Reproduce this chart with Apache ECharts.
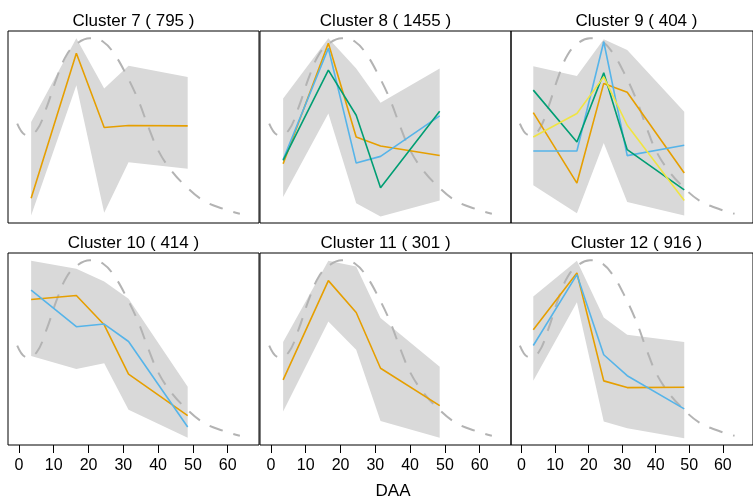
<!DOCTYPE html>
<html>
<head>
<meta charset="utf-8">
<script src="https://cdn.jsdelivr.net/npm/echarts@6/dist/echarts.min.js"></script>
<style>
  html, body { margin: 0; padding: 0; background: #fff; }
  #chart { width: 753px; height: 499px; }
</style>
</head>
<body>
<div id="chart"></div>
<script>
// sampling days (DAA)
const daa = [3.5, 16.5, 24.5, 31.5, 48.5]
const xTicks = [0, 10, 20, 30, 40, 50, 60]

// reference curve (dashed), same in every panel
const refX = [-0.5, 2.2, 5.1, 8.0, 10.8, 13.7, 17.0, 20.4, 24.2, 27.6, 30.9, 34.3, 37.2, 40.0, 43.4, 47.7, 53.0, 58.7, 63.5]
const refY = [51.8, 45.7, 48.3, 60.5, 75.3, 87.5, 93.9, 96.2, 94.4, 87.5, 77.0, 64.0, 50.0, 37.9, 28.3, 19.6, 11.7, 7.4, 4.8]

const clusterNames = ['Cluster 7', 'Cluster 8', 'Cluster 9', 'Cluster 10', 'Cluster 11', 'Cluster 12']
const clusterSizes = [795, 1455, 404, 414, 301, 916]

// ribbon (min / max) per cluster
const lower7 = [3.9, 71.8, 5.3, 31.7, 28.3]
const upper7 = [52.6, 96.2, 70.1, 81.9, 76.1]
const lower8 = [13.5, 57.0, 10.3, 3.4, 11.7]
const upper8 = [64.8, 96.2, 80.5, 62.6, 80.5]
const lower9 = [19.6, 5.1, 41.7, 10.9, 3.9]
const upper9 = [81.7, 76.5, 95.7, 90.1, 57.9]
const lower10 = [46.4, 39.6, 42.6, 18.3, 3.8]
const upper10 = [96.0, 91.8, 85.2, 76.2, 30.4]
const lower11 = [17.4, 64.3, 49.6, 12.5, 3.8]
const upper11 = [53.6, 96.0, 93.0, 66.1, 40.8]
const lower12 = [33.4, 74.4, 12.2, 8.7, 3.5]
const upper12 = [77.4, 96.0, 66.4, 57.4, 53.6]

// lines per cluster
const orange7 = [12.9, 88.4, 49.7, 50.8, 50.6]

const orange8 = [30.9, 93.6, 44.8, 40.1, 35.2]
const blue8 = [33.0, 91.0, 31.2, 34.7, 55.8]
const green8 = [32.6, 79.6, 56.1, 18.4, 58.2]

const blue9 = [37.5, 37.5, 94.4, 35.1, 40.5]
const green9 = [69.2, 42.2, 78.2, 38.2, 17.3]
const orange9 = [57.5, 20.8, 72.7, 68.1, 26.0]
const yellow9 = [44.8, 57.0, 76.1, 50.9, 11.7]

const orange10 = [75.8, 77.9, 62.6, 36.9, 15.3]
const blue10 = [80.7, 61.6, 63.0, 53.9, 9.4]

const orange11 = [33.9, 85.6, 69.0, 40.0, 20.5]

const orange12 = [60.0, 89.6, 33.4, 29.9, 30.1]
const blue12 = [51.8, 88.7, 47.0, 36.1, 18.8]

const ORANGE = '#E69F00', BLUE = '#56B4E9', GREEN = '#009E73', YELLOW = '#F0E442'

const panels = [
  { lower: lower7, upper: upper7, lines: [[orange7, ORANGE]] },
  { lower: lower8, upper: upper8, lines: [[orange8, ORANGE], [blue8, BLUE], [green8, GREEN]] },
  { lower: lower9, upper: upper9, lines: [[orange9, ORANGE], [blue9, BLUE], [green9, GREEN], [yellow9, YELLOW]] },
  { lower: lower10, upper: upper10, lines: [[orange10, ORANGE], [blue10, BLUE]] },
  { lower: lower11, upper: upper11, lines: [[orange11, ORANGE]] },
  { lower: lower12, upper: upper12, lines: [[orange12, ORANGE], [blue12, BLUE]] },
]

const FONT = 'Liberation Sans, Arial, Helvetica, sans-serif'
const colLeft = [8, 260, 511]
const rowTop = [31, 253]
const panelW = 251
const panelH = 192

let chart = echarts.init(document.getElementById('chart'))

let grid = [], xAxis = [], yAxis = [], series = [], graphic = []

// band polygon: drawn once (on the first item) through the axis scales
function bandRenderer(lower, upper) {
  return function (params, api) {
    if (params.dataIndex !== 0) return null
    let top = daa.map((d, k) => api.coord([d, upper[k]]))
    let bottom = daa.map((d, k) => api.coord([d, lower[k]])).reverse()
    return {
      type: 'polygon',
      shape: { points: top.concat(bottom) },
      style: { fill: '#d9d9d9' },
    }
  }
}

panels.forEach((p, i) => {
  let col = i % 3
  let row = Math.floor(i / 3)
  let bottomRow = row === 1
  grid.push({
    left: colLeft[col],
    top: rowTop[row],
    width: panelW,
    height: panelH,
    show: true,
    borderColor: '#000',
    borderWidth: 1,
    backgroundColor: 'transparent',
  })
  xAxis.push({
    type: 'value',
    gridIndex: i,
    min: -3.15,
    max: 69.0,
    splitLine: { show: false },
    axisLine: { show: false },
    axisTick: {
      show: bottomRow,
      customValues: xTicks,
      length: 8,
      lineStyle: { color: '#000', width: 1 },
    },
    axisLabel: {
      show: bottomRow,
      customValues: xTicks,
      margin: 13,
      fontSize: 16,
      color: '#000',
      fontFamily: FONT,
    },
  })
  yAxis.push({
    type: 'value',
    gridIndex: i,
    min: 0,
    max: 100,
    show: false,
    splitLine: { show: false },
  })

  series.push({
    type: 'custom',
    xAxisIndex: i,
    yAxisIndex: i,
    silent: true,
    renderItem: bandRenderer(p.lower, p.upper),
    data: daa.map((d, k) => [d, p.lower[k], p.upper[k]]),
    encode: { x: 0, y: [1, 2] },
    z: 1,
  })

  // dashed reference curve
  series.push({
    type: 'line',
    xAxisIndex: i,
    yAxisIndex: i,
    symbol: 'none',
    smooth: 0.4,
    silent: true,
    lineStyle: { color: '#b3b3b3', width: 2, type: [14, 11] },
    data: refX.map((x, k) => [x, refY[k]]),
    z: 2,
  })

  p.lines.forEach(([vals, color]) => {
    series.push({
      type: 'line',
      xAxisIndex: i,
      yAxisIndex: i,
      symbol: 'none',
      silent: true,
      lineStyle: { color: color, width: 1.6 },
      data: daa.map((d, k) => [d, vals[k]]),
      z: 3,
    })
  })

  graphic.push({
    type: 'text',
    x: colLeft[col] + panelW / 2,
    y: rowTop[row] - 10,
    style: {
      text: clusterNames[i] + ' ( ' + clusterSizes[i] + ' )',
      fontSize: 17,
      fontFamily: FONT,
      fill: '#000',
      textAlign: 'center',
      textVerticalAlign: 'middle',
    },
  })
})

graphic.push({
  type: 'text',
  x: 393,
  y: 491,
  style: {
    text: 'DAA',
    fontSize: 17,
    fontFamily: FONT,
    fill: '#000',
    textAlign: 'center',
    textVerticalAlign: 'middle',
  },
})

chart.setOption({
  animation: false,
  backgroundColor: '#fff',
  grid: grid,
  xAxis: xAxis,
  yAxis: yAxis,
  series: series,
  graphic: graphic,
})
</script>
</body>
</html>
